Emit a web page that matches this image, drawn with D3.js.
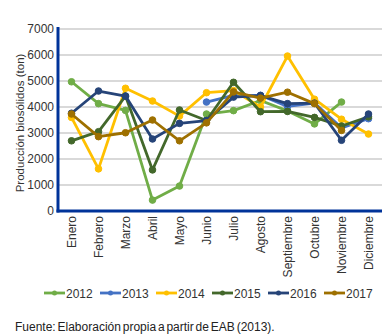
<!DOCTYPE html>
<html><head><meta charset="utf-8">
<script src="https://cdn.jsdelivr.net/npm/d3@7"></script>
<style>
body{margin:0;background:#fff;}
text{font-family:"Liberation Sans",Arial,sans-serif;}
</style></head>
<body><svg id="c" width="391" height="336"></svg>
<script>
const months = ["Enero","Febrero","Marzo","Abril","Mayo","Junio","Julio","Agosto","Septiembre","Octubre","Noviembre","Diciembre"];
const years = ["2012","2013","2014","2015","2016","2017"];
const colors = ["#70ad47","#4472c4","#ffc000","#43682b","#264478","#9e7000"];
const s2012 = [4970,4130,3870,420,960,3730,3860,4250,3850,3350,4190,null];
const s2013 = [null,null,null,null,null,4190,4450,4450,4020,4150,3200,3550];
const s2014 = [3600,1620,4720,4230,3650,4550,4630,4000,5960,4300,3530,2960];
const s2015 = [2700,3050,4420,1580,3885,3480,4950,3820,3830,3600,3270,3620];
const s2016 = [3760,4615,4420,2770,3370,3480,4380,4440,4130,4150,2720,3730];
const s2017 = [3730,2860,3010,3500,2700,3390,4580,4340,4570,4130,3100,null];
const yTicks = [0,1000,2000,3000,4000,5000,6000,7000];
const series = [s2012,s2013,s2014,s2015,s2016,s2017];

const svg = d3.select("#c");
const L=58, R=382, T=29, B=211;
const x = d3.scaleBand().domain(months).range([L,R]);
const y = d3.scaleLinear().domain([0,7000]).range([B,T]);

// gridlines
svg.append("g").selectAll("line").data(yTicks.filter(d=>d>0)).join("line")
  .attr("x1",L).attr("x2",R).attr("y1",d=>y(d)).attr("y2",d=>y(d))
  .attr("stroke","#d9d9d9").attr("stroke-width",2);

// y tick labels
const ya = svg.append("g").attr("transform",`translate(${L},0)`)
  .call(d3.axisLeft(y).tickValues(yTicks).tickSize(0).tickPadding(4).tickFormat(d3.format("d")));
ya.select(".domain").remove();
ya.selectAll("text").attr("font-size","12px").attr("fill","#333").attr("font-family","Liberation Sans, Arial, sans-serif");

// axis title
svg.append("text").attr("transform",`translate(24,${(T+B)/2+3}) rotate(-90)`)
  .attr("text-anchor","middle").attr("font-size","11.5px").attr("fill","#333")
  .text("Producción biosólidos (ton)");

// x labels
const xa = svg.append("g").attr("transform",`translate(0,${B})`)
  .call(d3.axisBottom(x).tickSize(0).tickPadding(0));
xa.select(".domain").remove();
xa.selectAll("text").attr("font-size","12px").attr("fill","#333")
  .attr("font-family","Liberation Sans, Arial, sans-serif")
  .attr("text-anchor","end").attr("transform","translate(0,5) rotate(-90)")
  .attr("x",0).attr("y",0).attr("dy","0.35em");

// lines
const line = d3.line().defined(d=>d!=null).x((d,i)=>x(months[i])+x.bandwidth()/2).y(d=>y(d));
series.forEach((s,k)=>{
  const g = svg.append("g");
  g.append("path").datum(s).attr("d",line).attr("fill","none")
    .attr("stroke",colors[k]).attr("stroke-width",2.8).attr("stroke-linejoin","round");
  g.selectAll("circle").data(s.map((v,i)=>({v,i})).filter(d=>d.v!=null)).join("circle")
    .attr("cx",d=>x(months[d.i])+x.bandwidth()/2).attr("cy",d=>y(d.v)).attr("r",3.3)
    .attr("fill",colors[k]).attr("stroke",colors[k]).attr("stroke-width",1);
});

// axes lines
svg.append("line").attr("x1",L).attr("x2",L).attr("y1",T-2).attr("y2",B+1.5).attr("stroke","#003399").attr("stroke-width",3);
svg.append("line").attr("x1",L-1.5).attr("x2",R).attr("y1",B).attr("y2",B).attr("stroke","#003399").attr("stroke-width",3);

// legend
const lg = svg.append("g");
years.forEach((yr,k)=>{
  const x0 = 44 + k*56;
  lg.append("line").attr("x1",x0).attr("x2",x0+21).attr("y1",293).attr("y2",293).attr("stroke",colors[k]).attr("stroke-width",2.8);
  lg.append("circle").attr("cx",x0+10.5).attr("cy",293).attr("r",2.5).attr("fill",colors[k]);
  lg.append("text").attr("x",x0+22).attr("y",297.5).attr("font-size","12px").attr("fill","#333").text(yr);
});

svg.append("text").attr("x",15).attr("y",331).attr("font-size","12px").attr("fill","#222")
  .attr("word-spacing","-1.5px").text("Fuente: Elaboración propia a partir de EAB (2013).");
</script></body></html>
